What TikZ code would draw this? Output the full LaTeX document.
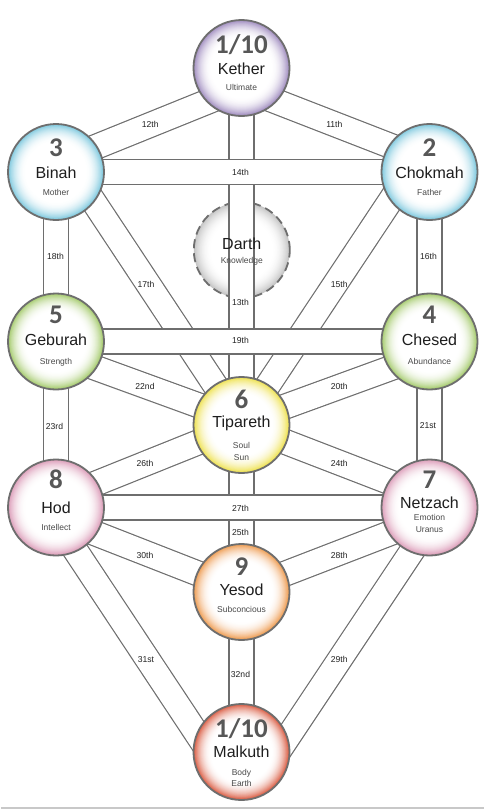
\documentclass[tikz,border=0pt]{standalone}
\usepackage{fontspec}
\setmainfont{Liberation Sans}
\newfontfamily\numfont{Carlito}
\usetikzlibrary{calc}
\definecolor{linegray}{HTML}{6E6E6E}
\definecolor{numgray}{HTML}{575757}
\definecolor{namecol}{HTML}{1E1E1E}
\definecolor{subcol}{HTML}{4A4A4A}
\definecolor{lblcol}{HTML}{222222}
\definecolor{kethercol}{HTML}{A08CC0}
\definecolor{bluecol}{HTML}{7CC8DE}
\definecolor{greencol}{HTML}{A4CA6A}
\definecolor{yellowcol}{HTML}{EEE14C}
\definecolor{pinkcol}{HTML}{DC9CB8}
\definecolor{orangecol}{HTML}{EE9A4E}
\definecolor{redcol}{HTML}{DA5A40}
\definecolor{darthcol}{HTML}{C4C4C4}
% radial colour ring drawn as concentric discs
\newcommand\ringfill[2]{%
  \foreach \i in {0,...,24}{%
    \pgfmathsetmacro\rr{48-0.75*\i}%
    \pgfmathsetmacro\pp{100*(1-\i/24)^2.1}%
    \fill[#2!\pp!white] (#1) circle[radius=\rr pt];
  }}
\newcommand\band[2]{\draw[bandout] #1 -- #2; \draw[bandin] #1 -- #2;}
\begin{document}
\begin{tikzpicture}[x=1pt,y=-1pt,
  sefira/.style={circle, draw=linegray, line width=1.8pt, minimum size=96pt, inner sep=0pt},
  darthstyle/.style={circle, draw=linegray, line width=1.8pt, dash pattern=on 9pt off 5pt, minimum size=96pt, inner sep=0pt},
  bandout/.style={line width=26.2pt, draw=linegray},
  bandin/.style={line width=23.8pt, draw=white},
  numtxt/.style={font=\numfont\bfseries\fontsize{27}{27}\selectfont, text=numgray, anchor=base, inner sep=0pt},
  nametxt/.style={font=\fontsize{16}{16}\selectfont, text=namecol, anchor=base, inner sep=0pt},
  subtxt/.style={font=\fontsize{8.5}{8.5}\selectfont, text=subcol, anchor=base, inner sep=0pt},
  lbl/.style={font=\fontsize{8.6}{9}\selectfont, text=lblcol, inner sep=0pt}]
\fill[white] (0,0) rectangle (483,809);
\draw[line width=2pt, draw={rgb,255:red,200;green,200;blue,200}] (0,807.8) -- (483,807.8);
% centre positions
\coordinate (pk) at (240.5,68);
\coordinate (pb) at (55,172);
\coordinate (pc) at (428.5,172);
\coordinate (pd) at (240.8,250);
\coordinate (pg) at (55,341.5);
\coordinate (pe) at (428.5,341.5);
\coordinate (pt) at (240.5,425);
\coordinate (ph) at (55,507.5);
\coordinate (pn) at (428.5,507.5);
\coordinate (py) at (240.5,592);
\coordinate (pm) at (240.5,752);
% Darth behind the paths
\ringfill{pd}{darthcol}
\node[darthstyle] (darth) at (pd) {};
% diagonal and vertical paths
\band{($(pk)+(0,20)$)}{($(pc)+(0,-11)$)}
\band{($(pk)+(0,20)$)}{($(pb)+(0,-9)$)}
\band{(pk)}{(pt)}
\band{($(pc)+(-20,0)$)}{(pt)}
\band{($(pb)+(18,0)$)}{(pt)}
\band{(pc)}{(pe)}
\band{(pb)}{(pg)}
\band{($(pe)+(0,12.5)$)}{($(pt)+(0,-2.5)$)}
\band{($(pg)+(0,12)$)}{($(pt)+(0,-4)$)}
\band{(pe)}{(pn)}
\band{(pg)}{(ph)}
\band{(pt)}{($(pn)+(0,-10)$)}
\band{($(ph)+(0,-8)$)}{(pt)}
\band{(pt)}{(py)}
\band{($(pn)+(0,10.5)$)}{($(py)+(0,-1.5)$)}
\band{($(ph)+(0,10.5)$)}{($(py)+(0,-1.5)$)}
\band{($(pn)+(11.5,0)$)}{($(pm)+(24.5,18)$)}
\band{($(ph)+(-9,0)$)}{($(pm)+(-20.6,18)$)}
\band{(py)}{(pm)}
% horizontal paths on top
\band{(pb)}{(pc)}
\band{(pg)}{(pe)}
\band{(ph)}{(pn)}
% path labels
\node[lbl] (l11) at (333.3,124.3) {11th};
\node[lbl] (l12) at (149.3,124.3) {12th};
\node[lbl] (l13) at (239.5,302.7) {13th};
\node[lbl] (l14) at (239.5,172.3) {14th};
\node[lbl] (l15) at (338.3,284) {15th};
\node[lbl] (l16) at (427.5,256) {16th};
\node[lbl] (l17) at (145,284) {17th};
\node[lbl] (l18) at (54.5,256) {18th};
\node[lbl] (l19) at (239.5,340.7) {19th};
\node[lbl] (l20) at (338.3,386.7) {20th};
\node[lbl] (l21) at (427,426) {21st};
\node[lbl] (l22) at (144,386.7) {22nd};
\node[lbl] (l23) at (53.5,426) {23rd};
\node[lbl] (l24) at (338.3,463.3) {24th};
\node[lbl] (l25) at (239.5,532.3) {25th};
\node[lbl] (l26) at (144,463.3) {26th};
\node[lbl] (l27) at (239.5,508.7) {27th};
\node[lbl] (l28) at (338.3,555.3) {28th};
\node[lbl] (l29) at (338.3,659.3) {29th};
\node[lbl] (l30) at (144,555.3) {30th};
\node[lbl] (l31) at (145,659.3) {31st};
\node[lbl] (l32) at (239.5,674.3) {32nd};
% sefirot
\ringfill{pk}{kethercol}
\ringfill{pb}{bluecol}
\ringfill{pc}{bluecol}
\ringfill{pg}{greencol}
\ringfill{pe}{greencol}
\ringfill{pt}{yellowcol}
\ringfill{ph}{pinkcol}
\ringfill{pn}{pinkcol}
\ringfill{py}{orangecol}
\ringfill{pm}{redcol}
\node[sefira] (kether) at (pk) {};
\node[sefira] (binah) at (pb) {};
\node[sefira] (chokmah) at (pc) {};
\node[sefira] (geburah) at (pg) {};
\node[sefira] (chesed) at (pe) {};
\node[sefira] (tipareth) at (pt) {};
\node[sefira] (hod) at (ph) {};
\node[sefira] (netzach) at (pn) {};
\node[sefira] (yesod) at (py) {};
\node[sefira] (malkuth) at (pm) {};
% texts
\node[numtxt] (kether-n) at ($(kether)+(0,-14.3)$) {1/10};
\node[nametxt] (kether-t) at ($(kether)+(0,6)$) {Kether};
\node[subtxt] (kether-s) at ($(kether)+(0,22.7)$) {Ultimate};
\node[numtxt] (binah-n) at ($(binah)+(0,-16)$) {3};
\node[nametxt] (binah-t) at ($(binah)+(0,6.3)$) {Binah};
\node[subtxt] (binah-s) at ($(binah)+(0,23.3)$) {Mother};
\node[numtxt] (chokmah-n) at ($(chokmah)+(0,-16)$) {2};
\node[nametxt] (chokmah-t) at ($(chokmah)+(0,6.3)$) {Chokmah};
\node[subtxt] (chokmah-s) at ($(chokmah)+(0,23.3)$) {Father};
\node[nametxt] (darth-t) at ($(darth)+(0,-0.9)$) {Darth};
\node[subtxt] (darth-s) at ($(darth)+(0,13.7)$) {Knowledge};
\node[numtxt] (geburah-n) at ($(geburah)+(0,-18)$) {5};
\node[nametxt] (geburah-t) at ($(geburah)+(0,4.3)$) {Geburah};
\node[subtxt] (geburah-s) at ($(geburah)+(0,22.5)$) {Strength};
\node[numtxt] (chesed-n) at ($(chesed)+(0,-18)$) {4};
\node[nametxt] (chesed-t) at ($(chesed)+(0,4.3)$) {Chesed};
\node[subtxt] (chesed-s) at ($(chesed)+(0,22.5)$) {Abundance};
\node[numtxt] (tipareth-n) at ($(tipareth)+(0,-16.7)$) {6};
\node[nametxt] (tipareth-t) at ($(tipareth)+(0,2.5)$) {Tipareth};
\node[subtxt] (tipareth-s) at ($(tipareth)+(0,23.7)$) {Soul};
\node[subtxt] (tipareth-s2) at ($(tipareth)+(0,35.3)$) {Sun};
\node[numtxt] (hod-n) at ($(hod)+(0,-18.7)$) {8};
\node[nametxt] (hod-t) at ($(hod)+(0,5.5)$) {Hod};
\node[subtxt] (hod-s) at ($(hod)+(0,22.7)$) {Intellect};
\node[numtxt] (netzach-n) at ($(netzach)+(0,-18.7)$) {7};
\node[nametxt] (netzach-t) at ($(netzach)+(0,0.5)$) {Netzach};
\node[subtxt] (netzach-s) at ($(netzach)+(0,13.3)$) {Emotion};
\node[subtxt] (netzach-s2) at ($(netzach)+(0,25.3)$) {Uranus};
\node[numtxt] (yesod-n) at ($(yesod)+(0,-17)$) {9};
\node[nametxt] (yesod-t) at ($(yesod)+(0,3.8)$) {Yesod};
\node[subtxt] (yesod-s) at ($(yesod)+(0,20.3)$) {Subconcious};
\node[numtxt] (malkuth-n) at ($(malkuth)+(0,-14.3)$) {1/10};
\node[nametxt] (malkuth-t) at ($(malkuth)+(0,5.8)$) {Malkuth};
\node[subtxt] (malkuth-s) at ($(malkuth)+(0,23)$) {Body};
\node[subtxt] (malkuth-s2) at ($(malkuth)+(0,34)$) {Earth};
\end{tikzpicture}
\end{document}
